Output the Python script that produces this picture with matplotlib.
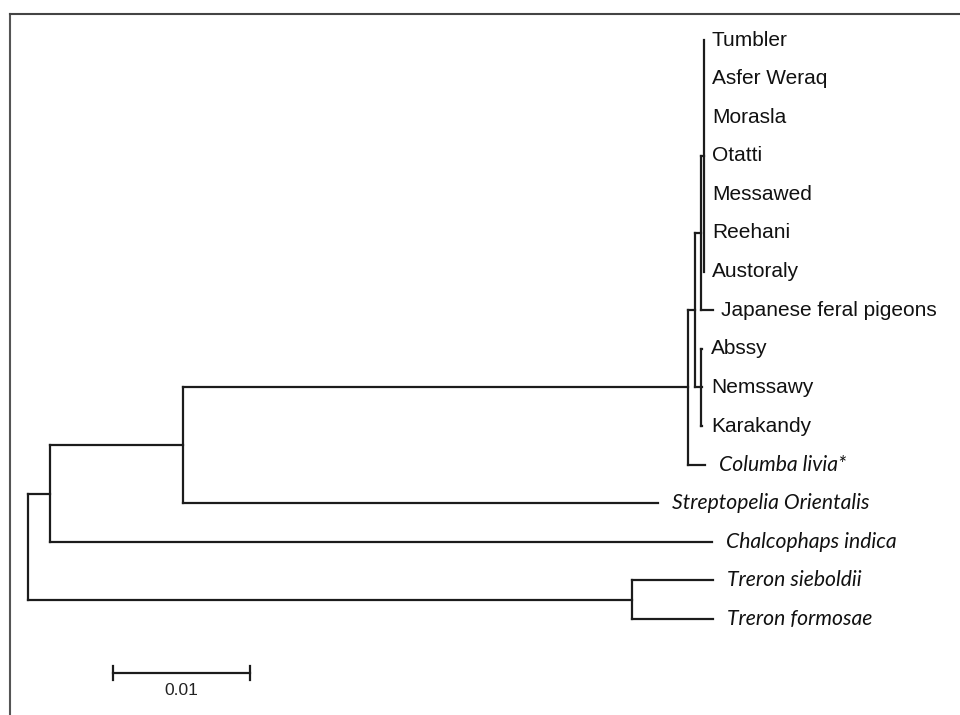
import matplotlib.pyplot as plt
from matplotlib.lines import Line2D

# leaves, top to bottom
leaves = ['Tumbler', 'Asfer Weraq', 'Morasla', 'Otatti', 'Messawed', 'Reehani',
          'Austoraly', 'Japanese feral pigeons', 'Abssy', 'Nemssawy', 'Karakandy',
          'Columba livia*', 'Streptopelia Orientalis', 'Chalcophaps indica',
          'Treron sieboldii', 'Treron formosae']
italic = ['Columba livia*', 'Streptopelia Orientalis', 'Chalcophaps indica',
          'Treron sieboldii', 'Treron formosae']

# edges of the tree: child, parent, branch length
child = ['A', 'T', 'B', 'Chalcophaps indica', 'C', 'Streptopelia Orientalis',
         'D', 'Columba livia*', 'E', 'F', 'P', 'Japanese feral pigeons',
         'Tumbler', 'Asfer Weraq', 'Morasla', 'Otatti', 'Messawed', 'Reehani', 'Austoraly',
         'Abssy', 'Nemssawy', 'Karakandy', 'Treron sieboldii', 'Treron formosae']
parent = ['root', 'root', 'A', 'A', 'B', 'B',
          'C', 'C', 'D', 'D', 'E', 'E',
          'P', 'P', 'P', 'P', 'P', 'P', 'P',
          'F', 'F', 'F', 'T', 'T']
blen = [0.00161, 0.04409, 0.0097, 0.04832, 0.03687, 0.03468,
        0.00051, 0.00124, 0.00043, 0.00043, 0.00019, 0.00088,
        0.0, 0.0, 0.0, 0.0, 0.0, 0.0, 0.0,
        0.00011, 0.00011, 0.00011, 0.00591, 0.00591]
scale_len = 0.01

kids = {}
for c, p in zip(child, parent):
    kids.setdefault(p, []).append(c)
length = dict(zip(child, blen))

xpos = {'root': 0.0}
ypos = {}


def place(node):
    for c in kids.get(node, []):
        xpos[c] = xpos[node] + length[c]
        place(c)
    if node in leaves:
        ypos[node] = leaves.index(node)
    else:
        ys = [ypos[c] for c in kids[node]]
        ypos[node] = (min(ys) + max(ys)) / 2


place('root')

fig = plt.figure(figsize=(9.6, 7.15), dpi=100)
ax = fig.add_axes([0, 0, 1, 1])
px = 13700.0  # pixels per unit of distance
ax.set_xlim(-28 / px, (960 - 28) / px)
step = 38.6
ax.set_ylim((715 - 40) / step, -40 / step)
ax.axis('off')

lc = '#1c1c1c'
lw = 1.6
for node, cs in kids.items():
    ys = [ypos[c] for c in cs]
    ax.plot([xpos[node], xpos[node]], [min(ys), max(ys)], color=lc, lw=lw,
            solid_capstyle='projecting')
    for c in cs:
        ax.plot([xpos[node], xpos[c]], [ypos[c], ypos[c]], color=lc, lw=lw,
                solid_capstyle='projecting')

for name in leaves:
    if name in italic:
        ax.annotate(name, (xpos[name], ypos[name]), xytext=(10, 0),
                    textcoords='offset points', va='center', ha='left',
                    fontsize=15.2, fontstyle='italic', family='Lato', color='#111111')
    else:
        ax.annotate(name, (xpos[name], ypos[name]), xytext=(6, 0),
                    textcoords='offset points', va='center', ha='left',
                    fontsize=15, family='Liberation Sans', color='#111111')

# scale bar
sx = (113 - 28) / px
sy = (673 - 40) / step
ax.plot([sx, sx + scale_len], [sy, sy], color=lc, lw=lw)
ax.plot([sx, sx], [sy - 0.17, sy + 0.17], color=lc, lw=lw)
ax.plot([sx + scale_len, sx + scale_len], [sy - 0.17, sy + 0.17], color=lc, lw=lw)
ax.text(sx + scale_len / 2, sy + 0.45, f'{scale_len:g}', ha='center', va='center',
        fontsize=12.5, family='Liberation Sans', color='#222222')

# frame
fig.add_artist(Line2D([10 / 960, 10 / 960], [0, 1 - 14 / 715],
                      transform=fig.transFigure, color='#555555', lw=1.5))
fig.add_artist(Line2D([10 / 960, 1], [1 - 14 / 715, 1 - 14 / 715],
                      transform=fig.transFigure, color='#444444', lw=1.5))

fig.savefig('out.png', dpi=100)
